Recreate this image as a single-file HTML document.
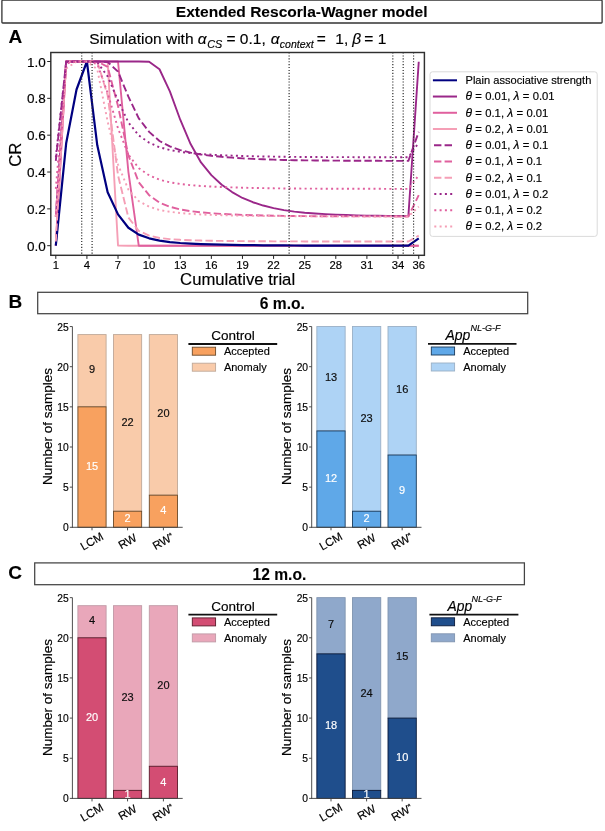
<!DOCTYPE html>
<html lang="en">
<head>
<meta charset="utf-8">
<title>Extended Rescorla-Wagner model</title>
<style>
html,body{margin:0;padding:0;background:#fff;}
body{width:605px;height:831px;overflow:hidden;}
svg{display:block;}
svg text{stroke:#000;stroke-width:0.16px;stroke-linejoin:round;}
svg text.w{stroke:#fff;}
svg text.b{stroke-width:0.1px;}
</style>
</head>
<body>
<svg width="605" height="831" viewBox="0 0 605 831" font-family='"Liberation Sans", sans-serif' fill="#000">
<rect x="0" y="0" width="605" height="831" fill="#fff"/>
<rect x="1.9" y="0.2" width="600.2" height="22.8" rx="0.8" fill="#fff" stroke="#333" stroke-width="1.3"/>
<text x="301.7" y="17.3" font-size="15.55" font-weight="bold" class="b" text-anchor="middle">Extended Rescorla-Wagner model</text>
<text x="8.6" y="43.2" font-size="19" font-weight="bold" class="b">A</text>
<text x="8.6" y="308.2" font-size="19" font-weight="bold" class="b">B</text>
<text x="8.2" y="578.7" font-size="19" font-weight="bold" class="b">C</text>
<g font-size="15.5">
<text x="89.3" y="43.7">Simulation with</text>
<text x="197.8" y="43.7" font-style="italic">α</text>
<text x="207.2" y="47.6" font-size="10.8" font-style="italic">CS</text>
<text x="226.5" y="43.7">= 0.1,</text>
<text x="270.7" y="43.7" font-style="italic">α</text>
<text x="279.8" y="47.6" font-size="10.5" font-style="italic">context</text>
<text x="316.7" y="43.7">=</text>
<text x="335.3" y="43.7">1,</text>
<text x="352.3" y="43.7" font-style="italic">β</text>
<text x="364.3" y="43.7">= 1</text>
</g>
<g clip-path="url(#clipA)">
<path d="M55.80,245.70 L66.17,61.50 L76.54,61.50 L86.91,61.50 L97.28,61.50 L107.65,61.50 L118.02,245.45 L128.39,245.70 L138.76,245.70 L149.13,245.70 L159.50,245.70 L169.87,245.70 L180.24,245.70 L190.61,245.70 L200.98,245.70 L211.35,245.70 L221.72,245.70 L232.09,245.70 L242.46,245.70 L252.83,245.70 L263.20,245.70 L273.57,245.70 L283.94,245.70 L294.31,245.70 L304.68,245.70 L315.05,245.70 L325.42,245.70 L335.79,245.70 L346.16,245.70 L356.53,245.70 L366.90,245.70 L377.27,245.70 L387.64,245.70 L398.01,245.70 L408.38,245.70 L418.75,245.70" fill="none" stroke="#f59fb6" stroke-width="1.9" stroke-linejoin="round"/>
<path d="M55.80,245.70 L66.17,61.50 L76.54,61.50 L86.91,61.50 L97.28,61.50 L107.65,61.50 L118.02,61.50 L128.39,171.78 L138.76,245.69 L149.13,245.70 L159.50,245.70 L169.87,245.70 L180.24,245.70 L190.61,245.70 L200.98,245.70 L211.35,245.70 L221.72,245.70 L232.09,245.70 L242.46,245.70 L252.83,245.70 L263.20,245.70 L273.57,245.70 L283.94,245.70 L294.31,245.70 L304.68,245.70 L315.05,245.70 L325.42,245.70 L335.79,245.70 L346.16,245.70 L356.53,245.70 L366.90,245.70 L377.27,245.70 L387.64,245.70 L398.01,245.70 L408.38,245.70 L418.75,245.70" fill="none" stroke="#e0609e" stroke-width="1.9" stroke-linejoin="round"/>
<path d="M55.80,216.48 L66.17,61.50 L76.54,61.50 L86.91,61.50 L97.28,61.50 L107.65,61.50 L118.02,61.50 L128.39,61.50 L138.76,61.50 L149.13,61.75 L159.50,69.24 L169.87,91.34 L180.24,119.71 L190.61,144.02 L200.98,162.44 L211.35,175.15 L221.72,184.73 L232.09,192.10 L242.46,197.99 L252.83,202.23 L263.20,205.54 L273.57,208.12 L283.94,210.15 L294.31,211.62 L304.68,212.68 L315.05,213.50 L325.42,214.14 L335.79,214.64 L346.16,215.03 L356.53,215.34 L366.90,215.58 L377.27,215.77 L387.64,215.92 L398.01,216.04 L408.38,216.13 L418.75,61.75" fill="none" stroke="#9a2789" stroke-width="1.9" stroke-linejoin="round"/>
<path d="M55.80,245.70 L66.17,143.28 L76.54,89.50 L86.91,61.50 L97.28,145.31 L107.65,192.28 L118.02,214.39 L128.39,227.74 L138.76,234.65 L149.13,238.33 L159.50,240.68 L169.87,242.04 L180.24,242.98 L190.61,243.62 L200.98,244.08 L211.35,244.41 L221.72,244.66 L232.09,244.87 L242.46,245.05 L252.83,245.18 L263.20,245.29 L273.57,245.38 L283.94,245.45 L294.31,245.51 L304.68,245.55 L315.05,245.58 L325.42,245.61 L335.79,245.63 L346.16,245.64 L356.53,245.65 L366.90,245.66 L377.27,245.67 L387.64,245.68 L398.01,245.68 L408.38,245.69 L418.75,238.33" fill="none" stroke="#000080" stroke-width="2.2" stroke-linejoin="round"/>
<path d="M55.80,241.51 L66.17,61.53 L76.54,61.50 L86.91,61.50 L97.28,61.55 L107.65,95.40 L118.02,175.32 L128.39,217.58 L138.76,230.82 L149.13,235.61 L159.50,237.95 L169.87,239.10 L180.24,239.80 L190.61,240.25 L200.98,240.55 L211.35,240.76 L221.72,240.92 L232.09,241.04 L242.46,241.15 L252.83,241.22 L263.20,241.28 L273.57,241.33 L283.94,241.38 L294.31,241.41 L304.68,241.43 L315.05,241.44 L325.42,241.46 L335.79,241.47 L346.16,241.48 L356.53,241.48 L366.90,241.49 L377.27,241.49 L387.64,241.50 L398.01,241.50 L408.38,241.50 L418.75,235.61" fill="none" stroke="#f59fb6" stroke-width="1.9" stroke-linejoin="round" stroke-dasharray="7.4 3.2"/>
<path d="M55.80,216.48 L66.17,61.50 L76.54,61.50 L86.91,61.50 L97.28,61.50 L107.65,66.79 L118.02,106.07 L128.39,155.44 L138.76,182.23 L149.13,195.18 L159.50,202.68 L169.87,206.75 L180.24,209.40 L190.61,211.15 L200.98,212.38 L211.35,213.24 L221.72,213.90 L232.09,214.43 L242.46,214.87 L252.83,215.21 L263.20,215.48 L273.57,215.70 L283.94,215.88 L294.31,216.01 L304.68,216.11 L315.05,216.19 L325.42,216.25 L335.79,216.30 L346.16,216.33 L356.53,216.36 L366.90,216.39 L377.27,216.41 L387.64,216.42 L398.01,216.43 L408.38,216.44 L418.75,195.18" fill="none" stroke="#e0609e" stroke-width="1.9" stroke-linejoin="round" stroke-dasharray="7.4 3.2"/>
<path d="M55.80,160.94 L66.17,61.50 L76.54,61.50 L86.91,61.50 L97.28,61.50 L107.65,61.97 L118.02,71.59 L128.39,96.64 L138.76,118.33 L149.13,131.88 L159.50,140.97 L169.87,146.36 L180.24,150.08 L190.61,152.64 L200.98,154.49 L211.35,155.79 L221.72,156.81 L232.09,157.64 L242.46,158.35 L252.83,158.88 L263.20,159.32 L273.57,159.67 L283.94,159.96 L294.31,160.18 L304.68,160.34 L315.05,160.46 L325.42,160.56 L335.79,160.64 L346.16,160.70 L356.53,160.75 L366.90,160.79 L377.27,160.82 L387.64,160.85 L398.01,160.86 L408.38,160.88 L418.75,131.88" fill="none" stroke="#9a2789" stroke-width="1.9" stroke-linejoin="round" stroke-dasharray="7.4 3.2"/>
<path d="M55.80,216.48 L66.17,68.41 L76.54,61.61 L86.91,61.51 L97.28,69.28 L107.65,121.61 L118.02,164.58 L128.39,189.68 L138.76,201.13 L149.13,206.68 L159.50,209.98 L169.87,211.83 L180.24,213.06 L190.61,213.88 L200.98,214.47 L211.35,214.88 L221.72,215.20 L232.09,215.46 L242.46,215.68 L252.83,215.85 L263.20,215.98 L273.57,216.09 L283.94,216.18 L294.31,216.24 L304.68,216.29 L315.05,216.33 L325.42,216.36 L335.79,216.39 L346.16,216.40 L356.53,216.42 L366.90,216.43 L377.27,216.44 L387.64,216.45 L398.01,216.45 L408.38,216.46 L418.75,206.68" fill="none" stroke="#f59fb6" stroke-width="1.9" stroke-linejoin="round" stroke-dasharray="2 3.3"/>
<path d="M55.80,188.87 L66.17,63.58 L76.54,61.52 L86.91,61.50 L97.28,63.90 L107.65,93.01 L118.02,128.40 L128.39,154.52 L138.76,168.20 L149.13,175.32 L159.50,179.74 L169.87,182.28 L180.24,183.99 L190.61,185.15 L200.98,185.99 L211.35,186.57 L221.72,187.03 L232.09,187.40 L242.46,187.72 L252.83,187.95 L263.20,188.15 L273.57,188.31 L283.94,188.44 L294.31,188.53 L304.68,188.60 L315.05,188.66 L325.42,188.70 L335.79,188.74 L346.16,188.76 L356.53,188.79 L366.90,188.80 L377.27,188.82 L387.64,188.83 L398.01,188.84 L408.38,188.84 L418.75,175.32" fill="none" stroke="#e0609e" stroke-width="1.9" stroke-linejoin="round" stroke-dasharray="2 3.3"/>
<path d="M55.80,157.27 L66.17,62.08 L76.54,61.50 L86.91,61.50 L97.28,62.19 L107.65,76.38 L118.02,100.52 L128.39,122.45 L138.76,135.42 L149.13,142.62 L159.50,147.26 L169.87,149.98 L180.24,151.84 L190.61,153.12 L200.98,154.04 L211.35,154.69 L221.72,155.21 L232.09,155.62 L242.46,155.97 L252.83,156.24 L263.20,156.46 L273.57,156.64 L283.94,156.78 L294.31,156.89 L304.68,156.97 L315.05,157.04 L325.42,157.09 L335.79,157.12 L346.16,157.16 L356.53,157.18 L366.90,157.20 L377.27,157.22 L387.64,157.23 L398.01,157.24 L408.38,157.24 L418.75,142.62" fill="none" stroke="#9a2789" stroke-width="1.9" stroke-linejoin="round" stroke-dasharray="2 3.3"/>
<line x1="81.72" x2="81.72" y1="52.5" y2="255.3" stroke="#2a2a2a" stroke-width="1.2" stroke-dasharray="1.1 1.8"/>
<line x1="92.09" x2="92.09" y1="52.5" y2="255.3" stroke="#2a2a2a" stroke-width="1.2" stroke-dasharray="1.1 1.8"/>
<line x1="289.12" x2="289.12" y1="52.5" y2="255.3" stroke="#2a2a2a" stroke-width="1.2" stroke-dasharray="1.1 1.8"/>
<line x1="392.82" x2="392.82" y1="52.5" y2="255.3" stroke="#2a2a2a" stroke-width="1.2" stroke-dasharray="1.1 1.8"/>
<line x1="403.19" x2="403.19" y1="52.5" y2="255.3" stroke="#2a2a2a" stroke-width="1.2" stroke-dasharray="1.1 1.8"/>
<line x1="413.56" x2="413.56" y1="52.5" y2="255.3" stroke="#2a2a2a" stroke-width="1.2" stroke-dasharray="1.1 1.8"/>
</g>
<defs><clipPath id="clipA"><rect x="50.8" y="52.5" width="373.59999999999997" height="202.8"/></clipPath></defs>
<rect x="50.8" y="52.5" width="373.60" height="202.80" fill="none" stroke="#303030" stroke-width="1.45"/>
<line x1="47.199999999999996" x2="50.8" y1="245.70" y2="245.70" stroke="#222" stroke-width="1"/>
<text x="45.8" y="250.70" font-size="13.5" text-anchor="end">0.0</text>
<line x1="47.199999999999996" x2="50.8" y1="208.86" y2="208.86" stroke="#222" stroke-width="1"/>
<text x="45.8" y="213.86" font-size="13.5" text-anchor="end">0.2</text>
<line x1="47.199999999999996" x2="50.8" y1="172.02" y2="172.02" stroke="#222" stroke-width="1"/>
<text x="45.8" y="177.02" font-size="13.5" text-anchor="end">0.4</text>
<line x1="47.199999999999996" x2="50.8" y1="135.18" y2="135.18" stroke="#222" stroke-width="1"/>
<text x="45.8" y="140.18" font-size="13.5" text-anchor="end">0.6</text>
<line x1="47.199999999999996" x2="50.8" y1="98.34" y2="98.34" stroke="#222" stroke-width="1"/>
<text x="45.8" y="103.34" font-size="13.5" text-anchor="end">0.8</text>
<line x1="47.199999999999996" x2="50.8" y1="61.50" y2="61.50" stroke="#222" stroke-width="1"/>
<text x="45.8" y="66.50" font-size="13.5" text-anchor="end">1.0</text>
<line x1="55.80" x2="55.80" y1="255.3" y2="258.90000000000003" stroke="#222" stroke-width="1"/>
<text x="55.80" y="268.8" font-size="11.3" text-anchor="middle">1</text>
<line x1="86.91" x2="86.91" y1="255.3" y2="258.90000000000003" stroke="#222" stroke-width="1"/>
<text x="86.91" y="268.8" font-size="11.3" text-anchor="middle">4</text>
<line x1="118.02" x2="118.02" y1="255.3" y2="258.90000000000003" stroke="#222" stroke-width="1"/>
<text x="118.02" y="268.8" font-size="11.3" text-anchor="middle">7</text>
<line x1="149.13" x2="149.13" y1="255.3" y2="258.90000000000003" stroke="#222" stroke-width="1"/>
<text x="149.13" y="268.8" font-size="11.3" text-anchor="middle">10</text>
<line x1="180.24" x2="180.24" y1="255.3" y2="258.90000000000003" stroke="#222" stroke-width="1"/>
<text x="180.24" y="268.8" font-size="11.3" text-anchor="middle">13</text>
<line x1="211.35" x2="211.35" y1="255.3" y2="258.90000000000003" stroke="#222" stroke-width="1"/>
<text x="211.35" y="268.8" font-size="11.3" text-anchor="middle">16</text>
<line x1="242.46" x2="242.46" y1="255.3" y2="258.90000000000003" stroke="#222" stroke-width="1"/>
<text x="242.46" y="268.8" font-size="11.3" text-anchor="middle">19</text>
<line x1="273.57" x2="273.57" y1="255.3" y2="258.90000000000003" stroke="#222" stroke-width="1"/>
<text x="273.57" y="268.8" font-size="11.3" text-anchor="middle">22</text>
<line x1="304.68" x2="304.68" y1="255.3" y2="258.90000000000003" stroke="#222" stroke-width="1"/>
<text x="304.68" y="268.8" font-size="11.3" text-anchor="middle">25</text>
<line x1="335.79" x2="335.79" y1="255.3" y2="258.90000000000003" stroke="#222" stroke-width="1"/>
<text x="335.79" y="268.8" font-size="11.3" text-anchor="middle">28</text>
<line x1="366.90" x2="366.90" y1="255.3" y2="258.90000000000003" stroke="#222" stroke-width="1"/>
<text x="366.90" y="268.8" font-size="11.3" text-anchor="middle">31</text>
<line x1="398.01" x2="398.01" y1="255.3" y2="258.90000000000003" stroke="#222" stroke-width="1"/>
<text x="398.01" y="268.8" font-size="11.3" text-anchor="middle">34</text>
<line x1="418.75" x2="418.75" y1="255.3" y2="258.90000000000003" stroke="#222" stroke-width="1"/>
<text x="418.75" y="268.8" font-size="11.3" text-anchor="middle">36</text>
<text x="237.6" y="284.9" font-size="16.7" text-anchor="middle">Cumulative trial</text>
<text transform="translate(20.5,154.7) rotate(-90)" font-size="16.7" text-anchor="middle">CR</text>
<rect x="430.0" y="71.8" width="167.2" height="164.6" rx="2.5" fill="#fff" stroke="#dadada" stroke-width="1"/>
<line x1="432.9" x2="457.0" y1="80.30" y2="80.30" stroke="#000080" stroke-width="2"/>
<text x="465.5" y="84.20" font-size="11.1">Plain associative strength</text>
<line x1="432.9" x2="457.0" y1="96.54" y2="96.54" stroke="#9a2789" stroke-width="2"/>
<text x="465.5" y="100.44" font-size="11.25" word-spacing="0.2"><tspan font-style="italic" font-size="12">θ</tspan> = 0.01, <tspan font-style="italic" font-size="12">λ</tspan> = 0.01</text>
<line x1="432.9" x2="457.0" y1="112.78" y2="112.78" stroke="#e0609e" stroke-width="2"/>
<text x="465.5" y="116.68" font-size="11.25" word-spacing="0.2"><tspan font-style="italic" font-size="12">θ</tspan> = 0.1, <tspan font-style="italic" font-size="12">λ</tspan> = 0.01</text>
<line x1="432.9" x2="457.0" y1="129.02" y2="129.02" stroke="#f59fb6" stroke-width="2"/>
<text x="465.5" y="132.92" font-size="11.25" word-spacing="0.2"><tspan font-style="italic" font-size="12">θ</tspan> = 0.2, <tspan font-style="italic" font-size="12">λ</tspan> = 0.01</text>
<line x1="434.0" x2="453.0" y1="145.26" y2="145.26" stroke="#9a2789" stroke-width="2" stroke-dasharray="7.4 3.2"/>
<text x="465.5" y="149.16" font-size="11.25" word-spacing="0.2"><tspan font-style="italic" font-size="12">θ</tspan> = 0.01, <tspan font-style="italic" font-size="12">λ</tspan> = 0.1</text>
<line x1="434.0" x2="453.0" y1="161.50" y2="161.50" stroke="#e0609e" stroke-width="2" stroke-dasharray="7.4 3.2"/>
<text x="465.5" y="165.40" font-size="11.25" word-spacing="0.2"><tspan font-style="italic" font-size="12">θ</tspan> = 0.1, <tspan font-style="italic" font-size="12">λ</tspan> = 0.1</text>
<line x1="434.0" x2="453.0" y1="177.74" y2="177.74" stroke="#f59fb6" stroke-width="2" stroke-dasharray="7.4 3.2"/>
<text x="465.5" y="181.64" font-size="11.25" word-spacing="0.2"><tspan font-style="italic" font-size="12">θ</tspan> = 0.2, <tspan font-style="italic" font-size="12">λ</tspan> = 0.1</text>
<line x1="434.3" x2="453.0" y1="193.98" y2="193.98" stroke="#9a2789" stroke-width="2" stroke-dasharray="2 3.3"/>
<text x="465.5" y="197.88" font-size="11.25" word-spacing="0.2"><tspan font-style="italic" font-size="12">θ</tspan> = 0.01, <tspan font-style="italic" font-size="12">λ</tspan> = 0.2</text>
<line x1="434.3" x2="453.0" y1="210.22" y2="210.22" stroke="#e0609e" stroke-width="2" stroke-dasharray="2 3.3"/>
<text x="465.5" y="214.12" font-size="11.25" word-spacing="0.2"><tspan font-style="italic" font-size="12">θ</tspan> = 0.1, <tspan font-style="italic" font-size="12">λ</tspan> = 0.2</text>
<line x1="434.3" x2="453.0" y1="226.46" y2="226.46" stroke="#f59fb6" stroke-width="2" stroke-dasharray="2 3.3"/>
<text x="465.5" y="230.36" font-size="11.25" word-spacing="0.2"><tspan font-style="italic" font-size="12">θ</tspan> = 0.2, <tspan font-style="italic" font-size="12">λ</tspan> = 0.2</text>
<rect x="37.7" y="292.3" width="490" height="21.4" fill="#fff" stroke="#444" stroke-width="1.25"/>
<text x="282.4" y="309.0" font-size="15.6" font-weight="bold" class="b" text-anchor="middle">6 m.o.</text>
<rect x="34.7" y="562.9" width="489.7" height="21.8" fill="#fff" stroke="#444" stroke-width="1.25"/>
<text x="279.4" y="579.5" font-size="15.6" font-weight="bold" class="b" text-anchor="middle">12 m.o.</text>
<rect x="77.90" y="334.58" width="28.20" height="72.27" fill="#F9CBAA" stroke="#bfa898" stroke-width="0.9"/>
<rect x="77.90" y="406.85" width="28.20" height="120.45" fill="#F8A15F" stroke="#6b4a2a" stroke-width="0.9"/>
<text x="92.00" y="470.27" font-size="11" text-anchor="middle" fill="#fff" class="w">15</text>
<text x="92.00" y="373.31" font-size="11" text-anchor="middle" fill="#111">9</text>
<rect x="113.45" y="334.58" width="28.20" height="176.66" fill="#F9CBAA" stroke="#bfa898" stroke-width="0.9"/>
<rect x="113.45" y="511.24" width="28.20" height="16.06" fill="#F8A15F" stroke="#6b4a2a" stroke-width="0.9"/>
<text x="127.55" y="522.47" font-size="11" text-anchor="middle" fill="#fff" class="w">2</text>
<text x="127.55" y="425.51" font-size="11" text-anchor="middle" fill="#111">22</text>
<rect x="149.30" y="334.58" width="28.20" height="160.60" fill="#F9CBAA" stroke="#bfa898" stroke-width="0.9"/>
<rect x="149.30" y="495.18" width="28.20" height="32.12" fill="#F8A15F" stroke="#6b4a2a" stroke-width="0.9"/>
<text x="163.40" y="514.44" font-size="11" text-anchor="middle" fill="#fff" class="w">4</text>
<text x="163.40" y="417.48" font-size="11" text-anchor="middle" fill="#111">20</text>
<line x1="72.4" x2="72.4" y1="326.55" y2="527.80" stroke="#444" stroke-width="0.95"/>
<line x1="71.9" x2="182.7" y1="527.30" y2="527.30" stroke="#444" stroke-width="0.95"/>
<line x1="69.80000000000001" x2="72.4" y1="527.30" y2="527.30" stroke="#444" stroke-width="0.95"/>
<text x="68.80" y="531.30" font-size="10.3" text-anchor="end">0</text>
<line x1="69.80000000000001" x2="72.4" y1="487.15" y2="487.15" stroke="#444" stroke-width="0.95"/>
<text x="68.80" y="491.15" font-size="10.3" text-anchor="end">5</text>
<line x1="69.80000000000001" x2="72.4" y1="447.00" y2="447.00" stroke="#444" stroke-width="0.95"/>
<text x="68.80" y="451.00" font-size="10.3" text-anchor="end">10</text>
<line x1="69.80000000000001" x2="72.4" y1="406.85" y2="406.85" stroke="#444" stroke-width="0.95"/>
<text x="68.80" y="410.85" font-size="10.3" text-anchor="end">15</text>
<line x1="69.80000000000001" x2="72.4" y1="366.70" y2="366.70" stroke="#444" stroke-width="0.95"/>
<text x="68.80" y="370.70" font-size="10.3" text-anchor="end">20</text>
<line x1="69.80000000000001" x2="72.4" y1="326.55" y2="326.55" stroke="#444" stroke-width="0.95"/>
<text x="68.80" y="330.55" font-size="10.3" text-anchor="end">25</text>
<line x1="92.00" x2="92.00" y1="527.30" y2="530.30" stroke="#444" stroke-width="0.95"/>
<text transform="translate(92.30,542.10) rotate(-30)" font-size="11.5" text-anchor="middle" dominant-baseline="middle">LCM</text>
<line x1="127.55" x2="127.55" y1="527.30" y2="530.30" stroke="#444" stroke-width="0.95"/>
<text transform="translate(127.85,542.10) rotate(-30)" font-size="11.5" text-anchor="middle" dominant-baseline="middle">RW</text>
<line x1="163.40" x2="163.40" y1="527.30" y2="530.30" stroke="#444" stroke-width="0.95"/>
<text transform="translate(163.70,542.10) rotate(-30)" font-size="11.5" text-anchor="middle" dominant-baseline="middle">RW<tspan font-size="8.5" dy="-1.5">*</tspan></text>
<text transform="translate(52.10,426.42) rotate(-90)" font-size="13.5" text-anchor="middle">Number of samples</text>
<text x="233" y="340.3" font-size="13.5" text-anchor="middle">Control</text>
<line x1="188.4" x2="277.2" y1="344.0" y2="344.0" stroke="#111" stroke-width="1.8"/>
<rect x="192.3" y="347.20" width="23.3" height="8" fill="#F8A15F" stroke="#6b4a2a" stroke-width="0.9"/>
<rect x="192.3" y="363.20" width="23.3" height="8" fill="#F9CBAA" stroke="#bfa898" stroke-width="0.9"/>
<text x="223.9" y="355.20" font-size="11">Accepted</text>
<text x="223.9" y="371.00" font-size="11">Anomaly</text>
<rect x="316.85" y="326.55" width="28.30" height="104.39" fill="#AED3F5" stroke="#9ab0c6" stroke-width="0.9"/>
<rect x="316.85" y="430.94" width="28.30" height="96.36" fill="#5FA8E8" stroke="#1a3a5a" stroke-width="0.9"/>
<text x="331.00" y="482.32" font-size="11" text-anchor="middle" fill="#fff" class="w">12</text>
<text x="331.00" y="381.35" font-size="11" text-anchor="middle" fill="#111">13</text>
<rect x="352.45" y="326.55" width="28.30" height="184.69" fill="#AED3F5" stroke="#9ab0c6" stroke-width="0.9"/>
<rect x="352.45" y="511.24" width="28.30" height="16.06" fill="#5FA8E8" stroke="#1a3a5a" stroke-width="0.9"/>
<text x="366.60" y="522.47" font-size="11" text-anchor="middle" fill="#fff" class="w">2</text>
<text x="366.60" y="421.50" font-size="11" text-anchor="middle" fill="#111">23</text>
<rect x="388.00" y="326.55" width="28.30" height="128.48" fill="#AED3F5" stroke="#9ab0c6" stroke-width="0.9"/>
<rect x="388.00" y="455.03" width="28.30" height="72.27" fill="#5FA8E8" stroke="#1a3a5a" stroke-width="0.9"/>
<text x="402.15" y="494.36" font-size="11" text-anchor="middle" fill="#fff" class="w">9</text>
<text x="402.15" y="393.39" font-size="11" text-anchor="middle" fill="#111">16</text>
<line x1="311.7" x2="311.7" y1="326.55" y2="527.80" stroke="#444" stroke-width="0.95"/>
<line x1="311.2" x2="421.5" y1="527.30" y2="527.30" stroke="#444" stroke-width="0.95"/>
<line x1="309.09999999999997" x2="311.7" y1="527.30" y2="527.30" stroke="#444" stroke-width="0.95"/>
<text x="308.10" y="531.30" font-size="10.3" text-anchor="end">0</text>
<line x1="309.09999999999997" x2="311.7" y1="487.15" y2="487.15" stroke="#444" stroke-width="0.95"/>
<text x="308.10" y="491.15" font-size="10.3" text-anchor="end">5</text>
<line x1="309.09999999999997" x2="311.7" y1="447.00" y2="447.00" stroke="#444" stroke-width="0.95"/>
<text x="308.10" y="451.00" font-size="10.3" text-anchor="end">10</text>
<line x1="309.09999999999997" x2="311.7" y1="406.85" y2="406.85" stroke="#444" stroke-width="0.95"/>
<text x="308.10" y="410.85" font-size="10.3" text-anchor="end">15</text>
<line x1="309.09999999999997" x2="311.7" y1="366.70" y2="366.70" stroke="#444" stroke-width="0.95"/>
<text x="308.10" y="370.70" font-size="10.3" text-anchor="end">20</text>
<line x1="309.09999999999997" x2="311.7" y1="326.55" y2="326.55" stroke="#444" stroke-width="0.95"/>
<text x="308.10" y="330.55" font-size="10.3" text-anchor="end">25</text>
<line x1="331.00" x2="331.00" y1="527.30" y2="530.30" stroke="#444" stroke-width="0.95"/>
<text transform="translate(331.30,542.10) rotate(-30)" font-size="11.5" text-anchor="middle" dominant-baseline="middle">LCM</text>
<line x1="366.60" x2="366.60" y1="527.30" y2="530.30" stroke="#444" stroke-width="0.95"/>
<text transform="translate(366.90,542.10) rotate(-30)" font-size="11.5" text-anchor="middle" dominant-baseline="middle">RW</text>
<line x1="402.15" x2="402.15" y1="527.30" y2="530.30" stroke="#444" stroke-width="0.95"/>
<text transform="translate(402.45,542.10) rotate(-30)" font-size="11.5" text-anchor="middle" dominant-baseline="middle">RW<tspan font-size="8.5" dy="-1.5">*</tspan></text>
<text transform="translate(291.40,426.42) rotate(-90)" font-size="13.5" text-anchor="middle">Number of samples</text>
<text x="445.5" y="340.3" font-size="14" font-style="italic">App<tspan font-size="9" dy="-9.3">NL-G-F</tspan></text>
<line x1="428.0" x2="516.5" y1="343.8" y2="343.8" stroke="#111" stroke-width="1.8"/>
<rect x="431.3" y="347.00" width="23.3" height="8" fill="#5FA8E8" stroke="#1a3a5a" stroke-width="0.9"/>
<rect x="431.3" y="363.00" width="23.3" height="8" fill="#AED3F5" stroke="#9ab0c6" stroke-width="0.9"/>
<text x="463.2" y="355.00" font-size="11">Accepted</text>
<text x="463.2" y="370.80" font-size="11">Anomaly</text>
<rect x="77.90" y="605.68" width="28.20" height="32.12" fill="#E9A7BA" stroke="#c09aa6" stroke-width="0.9"/>
<rect x="77.90" y="637.80" width="28.20" height="160.60" fill="#D34D73" stroke="#5a1a2a" stroke-width="0.9"/>
<text x="92.00" y="721.30" font-size="11" text-anchor="middle" fill="#fff" class="w">20</text>
<text x="92.00" y="624.34" font-size="11" text-anchor="middle" fill="#111">4</text>
<rect x="113.45" y="605.68" width="28.20" height="184.69" fill="#E9A7BA" stroke="#c09aa6" stroke-width="0.9"/>
<rect x="113.45" y="790.37" width="28.20" height="8.03" fill="#D34D73" stroke="#5a1a2a" stroke-width="0.9"/>
<text x="127.55" y="797.59" font-size="11" text-anchor="middle" fill="#fff" class="w">1</text>
<text x="127.55" y="700.62" font-size="11" text-anchor="middle" fill="#111">23</text>
<rect x="149.30" y="605.68" width="28.20" height="160.60" fill="#E9A7BA" stroke="#c09aa6" stroke-width="0.9"/>
<rect x="149.30" y="766.28" width="28.20" height="32.12" fill="#D34D73" stroke="#5a1a2a" stroke-width="0.9"/>
<text x="163.40" y="785.54" font-size="11" text-anchor="middle" fill="#fff" class="w">4</text>
<text x="163.40" y="688.58" font-size="11" text-anchor="middle" fill="#111">20</text>
<line x1="72.4" x2="72.4" y1="597.65" y2="798.90" stroke="#444" stroke-width="0.95"/>
<line x1="71.9" x2="182.7" y1="798.40" y2="798.40" stroke="#444" stroke-width="0.95"/>
<line x1="69.80000000000001" x2="72.4" y1="798.40" y2="798.40" stroke="#444" stroke-width="0.95"/>
<text x="68.80" y="802.40" font-size="10.3" text-anchor="end">0</text>
<line x1="69.80000000000001" x2="72.4" y1="758.25" y2="758.25" stroke="#444" stroke-width="0.95"/>
<text x="68.80" y="762.25" font-size="10.3" text-anchor="end">5</text>
<line x1="69.80000000000001" x2="72.4" y1="718.10" y2="718.10" stroke="#444" stroke-width="0.95"/>
<text x="68.80" y="722.10" font-size="10.3" text-anchor="end">10</text>
<line x1="69.80000000000001" x2="72.4" y1="677.95" y2="677.95" stroke="#444" stroke-width="0.95"/>
<text x="68.80" y="681.95" font-size="10.3" text-anchor="end">15</text>
<line x1="69.80000000000001" x2="72.4" y1="637.80" y2="637.80" stroke="#444" stroke-width="0.95"/>
<text x="68.80" y="641.80" font-size="10.3" text-anchor="end">20</text>
<line x1="69.80000000000001" x2="72.4" y1="597.65" y2="597.65" stroke="#444" stroke-width="0.95"/>
<text x="68.80" y="601.65" font-size="10.3" text-anchor="end">25</text>
<line x1="92.00" x2="92.00" y1="798.40" y2="801.40" stroke="#444" stroke-width="0.95"/>
<text transform="translate(92.30,813.20) rotate(-30)" font-size="11.5" text-anchor="middle" dominant-baseline="middle">LCM</text>
<line x1="127.55" x2="127.55" y1="798.40" y2="801.40" stroke="#444" stroke-width="0.95"/>
<text transform="translate(127.85,813.20) rotate(-30)" font-size="11.5" text-anchor="middle" dominant-baseline="middle">RW</text>
<line x1="163.40" x2="163.40" y1="798.40" y2="801.40" stroke="#444" stroke-width="0.95"/>
<text transform="translate(163.70,813.20) rotate(-30)" font-size="11.5" text-anchor="middle" dominant-baseline="middle">RW<tspan font-size="8.5" dy="-1.5">*</tspan></text>
<text transform="translate(52.10,697.52) rotate(-90)" font-size="13.5" text-anchor="middle">Number of samples</text>
<text x="233" y="611.2" font-size="13.5" text-anchor="middle">Control</text>
<line x1="188.4" x2="277.2" y1="614.7" y2="614.7" stroke="#111" stroke-width="1.8"/>
<rect x="192.3" y="617.90" width="23.3" height="8" fill="#D34D73" stroke="#5a1a2a" stroke-width="0.9"/>
<rect x="192.3" y="633.90" width="23.3" height="8" fill="#E9A7BA" stroke="#c09aa6" stroke-width="0.9"/>
<text x="223.9" y="625.90" font-size="11">Accepted</text>
<text x="223.9" y="641.70" font-size="11">Anomaly</text>
<rect x="316.85" y="597.65" width="28.30" height="56.21" fill="#8FA8CB" stroke="#8094b0" stroke-width="0.9"/>
<rect x="316.85" y="653.86" width="28.30" height="144.54" fill="#1F4E8C" stroke="#0a1a3a" stroke-width="0.9"/>
<text x="331.00" y="729.33" font-size="11" text-anchor="middle" fill="#fff" class="w">18</text>
<text x="331.00" y="628.36" font-size="11" text-anchor="middle" fill="#111">7</text>
<rect x="352.45" y="597.65" width="28.30" height="192.72" fill="#8FA8CB" stroke="#8094b0" stroke-width="0.9"/>
<rect x="352.45" y="790.37" width="28.30" height="8.03" fill="#1F4E8C" stroke="#0a1a3a" stroke-width="0.9"/>
<text x="366.60" y="797.59" font-size="11" text-anchor="middle" fill="#fff" class="w">1</text>
<text x="366.60" y="696.61" font-size="11" text-anchor="middle" fill="#111">24</text>
<rect x="388.00" y="597.65" width="28.30" height="120.45" fill="#8FA8CB" stroke="#8094b0" stroke-width="0.9"/>
<rect x="388.00" y="718.10" width="28.30" height="80.30" fill="#1F4E8C" stroke="#0a1a3a" stroke-width="0.9"/>
<text x="402.15" y="761.45" font-size="11" text-anchor="middle" fill="#fff" class="w">10</text>
<text x="402.15" y="660.48" font-size="11" text-anchor="middle" fill="#111">15</text>
<line x1="311.7" x2="311.7" y1="597.65" y2="798.90" stroke="#444" stroke-width="0.95"/>
<line x1="311.2" x2="421.5" y1="798.40" y2="798.40" stroke="#444" stroke-width="0.95"/>
<line x1="309.09999999999997" x2="311.7" y1="798.40" y2="798.40" stroke="#444" stroke-width="0.95"/>
<text x="308.10" y="802.40" font-size="10.3" text-anchor="end">0</text>
<line x1="309.09999999999997" x2="311.7" y1="758.25" y2="758.25" stroke="#444" stroke-width="0.95"/>
<text x="308.10" y="762.25" font-size="10.3" text-anchor="end">5</text>
<line x1="309.09999999999997" x2="311.7" y1="718.10" y2="718.10" stroke="#444" stroke-width="0.95"/>
<text x="308.10" y="722.10" font-size="10.3" text-anchor="end">10</text>
<line x1="309.09999999999997" x2="311.7" y1="677.95" y2="677.95" stroke="#444" stroke-width="0.95"/>
<text x="308.10" y="681.95" font-size="10.3" text-anchor="end">15</text>
<line x1="309.09999999999997" x2="311.7" y1="637.80" y2="637.80" stroke="#444" stroke-width="0.95"/>
<text x="308.10" y="641.80" font-size="10.3" text-anchor="end">20</text>
<line x1="309.09999999999997" x2="311.7" y1="597.65" y2="597.65" stroke="#444" stroke-width="0.95"/>
<text x="308.10" y="601.65" font-size="10.3" text-anchor="end">25</text>
<line x1="331.00" x2="331.00" y1="798.40" y2="801.40" stroke="#444" stroke-width="0.95"/>
<text transform="translate(331.30,813.20) rotate(-30)" font-size="11.5" text-anchor="middle" dominant-baseline="middle">LCM</text>
<line x1="366.60" x2="366.60" y1="798.40" y2="801.40" stroke="#444" stroke-width="0.95"/>
<text transform="translate(366.90,813.20) rotate(-30)" font-size="11.5" text-anchor="middle" dominant-baseline="middle">RW</text>
<line x1="402.15" x2="402.15" y1="798.40" y2="801.40" stroke="#444" stroke-width="0.95"/>
<text transform="translate(402.45,813.20) rotate(-30)" font-size="11.5" text-anchor="middle" dominant-baseline="middle">RW<tspan font-size="8.5" dy="-1.5">*</tspan></text>
<text transform="translate(291.40,697.52) rotate(-90)" font-size="13.5" text-anchor="middle">Number of samples</text>
<text x="447.5" y="611.2" font-size="13.8" font-style="italic">App<tspan font-size="9" dy="-9.3" dx="-0.5">NL-G-F</tspan></text>
<line x1="429.4" x2="518.4" y1="614.6" y2="614.6" stroke="#111" stroke-width="1.8"/>
<rect x="431.3" y="617.80" width="23.3" height="8" fill="#1F4E8C" stroke="#0a1a3a" stroke-width="0.9"/>
<rect x="431.3" y="633.80" width="23.3" height="8" fill="#8FA8CB" stroke="#8094b0" stroke-width="0.9"/>
<text x="463.2" y="625.80" font-size="11">Accepted</text>
<text x="463.2" y="641.60" font-size="11">Anomaly</text>
</svg>
</body>
</html>
